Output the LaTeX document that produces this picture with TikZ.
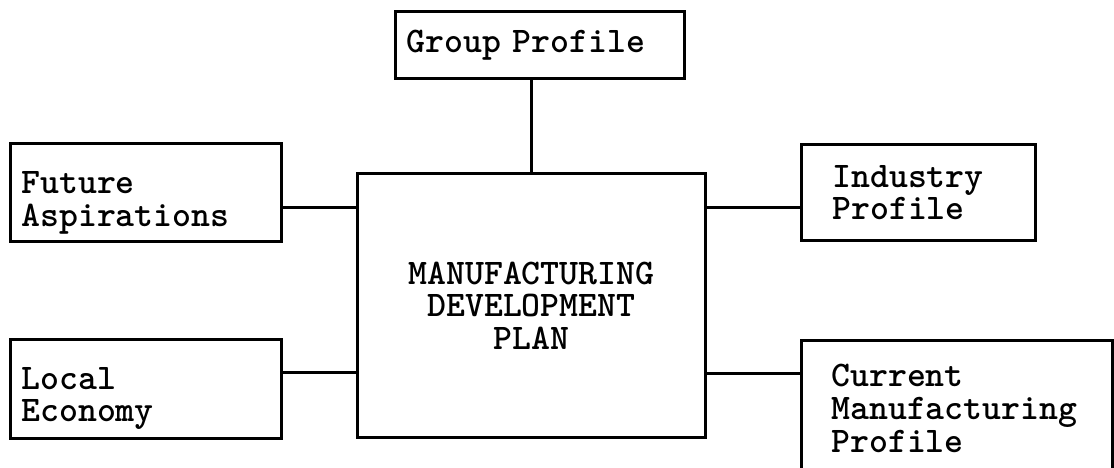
\documentclass[tikz,border=0pt]{standalone}
\usepackage{fontspec}
\usetikzlibrary{positioning}
% a strut that pushes the first line of a box down
\newcommand{\lowstrut}[1]{\rule{0pt}{#1}}

\begin{document}
\begin{tikzpicture}[
    infobox/.style={draw,line width=1.6pt,anchor=north west,align=left,
      inner ysep=0pt,font=\ttfamily\bfseries\fontsize{20.5}{18.5}\selectfont},
    link/.style={line width=1.6pt}
    ]
    \clip (0,0) rectangle (22.28,-9.36);
    % the plan in the middle
    \node[infobox,align=center,minimum width=6.96cm,minimum height=5.28cm] (plan) at (7.12,-3.44)
      {MANUFACTURING\\DEVELOPMENT\\PLAN};
    % inputs around it
    \node[infobox,inner xsep=0.22cm,text width=5.34cm,minimum height=1.34cm] (group) at (7.88,-0.2) {Group Profile};
    \node[infobox,inner xsep=0.22cm,text width=4.98cm,minimum height=1.96cm] (future) at (0.18,-2.84) {\lowstrut{8.6mm}Future\\Aspirations};
    \node[infobox,inner xsep=0.22cm,text width=4.98cm,minimum height=1.98cm] (economy) at (0.18,-6.76) {\lowstrut{8.2mm}Local\\Economy};
    \node[infobox,inner xsep=0.62cm,text width=3.44cm,minimum height=1.92cm] (industry) at (16.0,-2.86) {Industry\\Profile};
    \node[infobox,inner xsep=0.6cm,text width=5.02cm,minimum height=2.72cm] (current) at (16.0,-6.78) {Current\\Manufacturing\\Profile};

    % connectors
    \draw[link] (plan.north) -- (plan.north |- group.south);
    \coordinate (futurelink) at ([yshift=-3mm]future.east);
    \coordinate (economylink) at ([yshift=3.3mm]economy.east);
    \coordinate (industrylink) at ([yshift=-3mm]industry.west);
    \coordinate (currentlink) at ([yshift=7mm]current.west);
    \draw[link] (futurelink) -- (futurelink -| plan.west);
    \draw[link] (economylink) -- (economylink -| plan.west);
    \draw[link] (industrylink) -- (industrylink -| plan.east);
    \draw[link] (currentlink) -- (currentlink -| plan.east);
\end{tikzpicture}
\end{document}
